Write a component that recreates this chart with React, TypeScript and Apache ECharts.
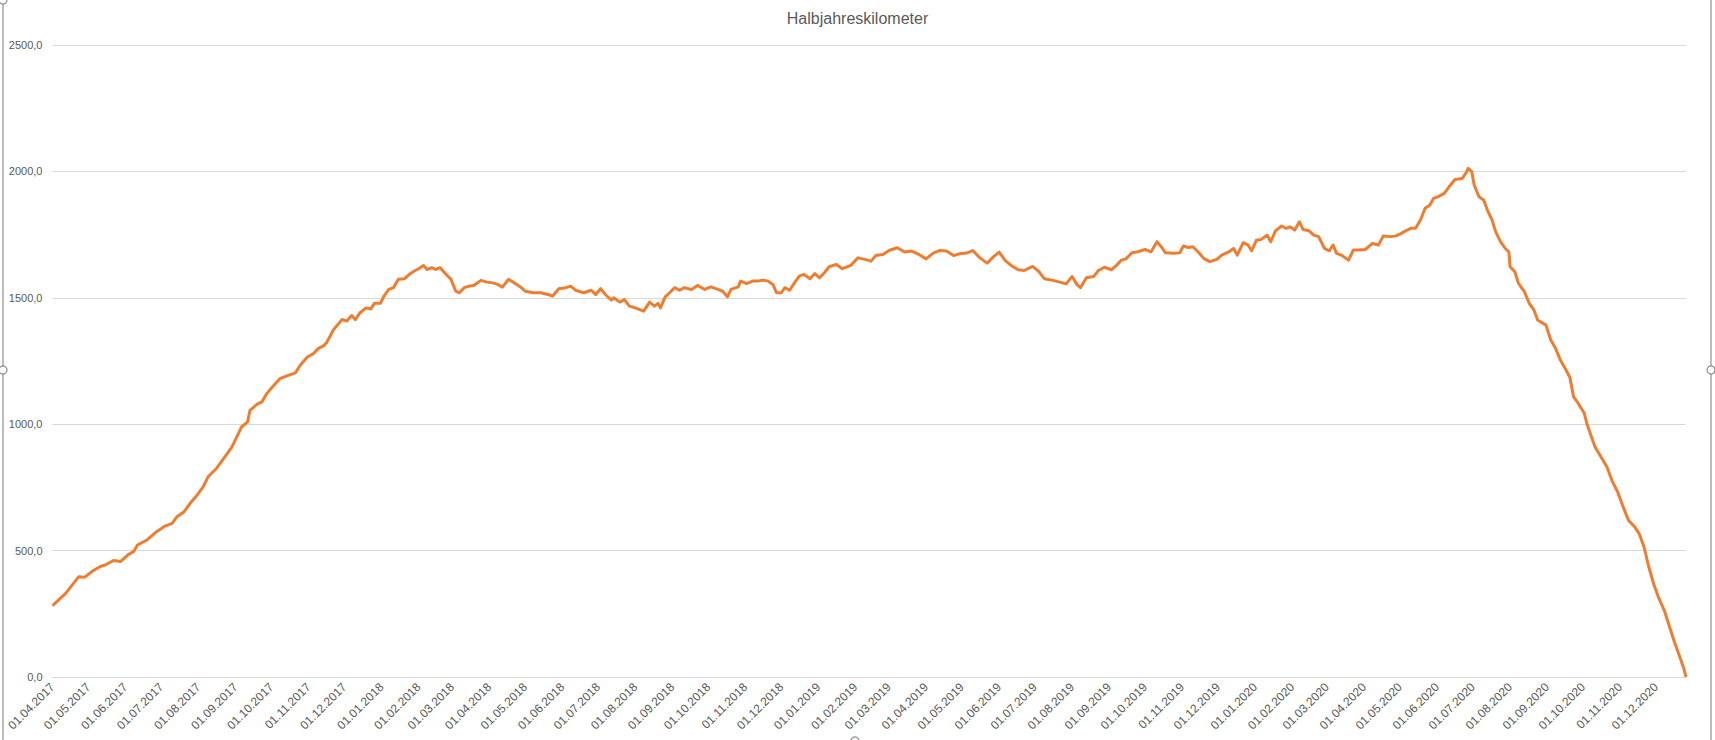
import React, { useEffect, useRef } from "react";
import * as echarts from "echarts";

const TITLE = "Halbjahreskilometer";

const dates: string[] = [
  "2017-04-01","2017-04-12","2017-04-23","2017-04-28","2017-05-05","2017-05-11","2017-05-15","2017-05-22","2017-05-28",
  "2017-06-03","2017-06-08","2017-06-11","2017-06-19","2017-06-27","2017-07-04","2017-07-10","2017-07-14","2017-07-20",
  "2017-07-25","2017-07-31","2017-08-05","2017-08-09","2017-08-16","2017-08-22","2017-08-29","2017-09-02","2017-09-06",
  "2017-09-11","2017-09-13","2017-09-19","2017-09-23","2017-09-27","2017-10-03","2017-10-08","2017-10-15","2017-10-21",
  "2017-10-25","2017-10-31","2017-11-05","2017-11-09","2017-11-14","2017-11-16","2017-11-22","2017-11-29","2017-12-03",
  "2017-12-07","2017-12-10","2017-12-14","2017-12-19","2017-12-23","2017-12-26","2017-12-31",
  "2018-01-03","2018-01-07","2018-01-11","2018-01-15","2018-01-20","2018-01-24","2018-01-28","2018-02-01","2018-02-05",
  "2018-02-08","2018-02-12","2018-02-15","2018-02-19","2018-02-24","2018-02-28","2018-03-04","2018-03-07","2018-03-11",
  "2018-03-15","2018-03-19","2018-03-25","2018-03-30","2018-04-04","2018-04-08","2018-04-12","2018-04-17","2018-04-22",
  "2018-04-27","2018-05-01","2018-05-08","2018-05-14","2018-05-20","2018-05-24","2018-05-29","2018-06-04","2018-06-08",
  "2018-06-12","2018-06-19","2018-06-25","2018-06-29","2018-07-03","2018-07-07","2018-07-12","2018-07-14","2018-07-19",
  "2018-07-23","2018-07-27","2018-08-01","2018-08-08","2018-08-13","2018-08-17","2018-08-20","2018-08-22","2018-08-26",
  "2018-08-29","2018-09-03","2018-09-07","2018-09-11","2018-09-17","2018-09-22","2018-09-28","2018-10-03","2018-10-09",
  "2018-10-13","2018-10-17","2018-10-20","2018-10-26","2018-10-28","2018-11-02","2018-11-07","2018-11-11","2018-11-16",
  "2018-11-20","2018-11-24","2018-11-27","2018-12-01","2018-12-04","2018-12-08","2018-12-12","2018-12-16","2018-12-20",
  "2018-12-25","2018-12-29",
  "2019-01-02","2019-01-06","2019-01-10","2019-01-16","2019-01-21","2019-01-28","2019-02-03","2019-02-09","2019-02-14",
  "2019-02-18","2019-02-24","2019-03-01","2019-03-08","2019-03-14","2019-03-20","2019-03-25","2019-04-01","2019-04-07",
  "2019-04-12","2019-04-18","2019-04-24","2019-04-29","2019-05-05","2019-05-10","2019-05-16","2019-05-22","2019-05-27",
  "2019-06-01","2019-06-06","2019-06-11","2019-06-17","2019-06-22","2019-06-29","2019-07-04","2019-07-09","2019-07-16",
  "2019-07-22","2019-07-27","2019-08-01","2019-08-05","2019-08-08","2019-08-13","2019-08-19","2019-08-23","2019-08-28",
  "2019-09-03","2019-09-07","2019-09-11","2019-09-15","2019-09-20","2019-09-25","2019-10-01","2019-10-06","2019-10-11",
  "2019-10-15","2019-10-18","2019-10-25","2019-10-30","2019-11-02","2019-11-06","2019-11-10","2019-11-15","2019-11-19",
  "2019-11-24","2019-11-30","2019-12-04","2019-12-10","2019-12-14","2019-12-17","2019-12-22","2019-12-26","2019-12-29",
  "2020-01-02","2020-01-06","2020-01-11","2020-01-14","2020-01-18","2020-01-23","2020-01-27","2020-01-30","2020-02-03",
  "2020-02-07","2020-02-10","2020-02-15","2020-02-19","2020-02-23","2020-02-28","2020-03-03","2020-03-06","2020-03-09",
  "2020-03-13","2020-03-19","2020-03-23","2020-03-27","2020-04-02","2020-04-08","2020-04-13","2020-04-17","2020-04-23",
  "2020-04-27","2020-05-01","2020-05-07","2020-05-10","2020-05-14","2020-05-18","2020-05-22","2020-05-26","2020-05-29",
  "2020-06-02","2020-06-07","2020-06-11","2020-06-16","2020-06-22","2020-06-25","2020-06-27","2020-06-30","2020-07-02",
  "2020-07-06","2020-07-10","2020-07-13","2020-07-17","2020-07-20","2020-07-24","2020-07-28","2020-07-31","2020-08-01",
  "2020-08-05","2020-08-08","2020-08-13","2020-08-17","2020-08-21","2020-08-24","2020-08-31","2020-09-04","2020-09-08",
  "2020-09-12","2020-09-16","2020-09-20","2020-09-23","2020-09-27","2020-10-02","2020-10-04","2020-10-07","2020-10-11",
  "2020-10-16","2020-10-21","2020-10-25","2020-10-30","2020-11-03","2020-11-08","2020-11-13","2020-11-17","2020-11-21",
  "2020-11-25","2020-11-29","2020-12-03","2020-12-08","2020-12-12","2020-12-16","2020-12-20","2020-12-24","2020-12-26"
];

const km: number[] = [
  282,331,397,395,421,437,443,461,457,
  483,497,522,542,575,597,608,634,654,
  687,720,753,792,825,864,910,950,989,
  1009,1055,1079,1088,1121,1154,1180,1193,1203,
  1233,1266,1279,1299,1312,1322,1375,1414,1408,
  1430,1414,1441,1460,1456,1478,1478,
  1507,1533,1540,1573,1575,1592,1605,1615,1628,
  1612,1619,1612,1619,1592,1573,1526,1520,1540,
  1546,1549,1569,1562,1559,1553,1542,1573,1559,
  1543,1526,1520,1520,1513,1507,1536,1540,1546,
  1530,1520,1530,1513,1536,1513,1491,1500,1483,
  1493,1467,1460,1447,1483,1467,1478,1460,1504,
  1517,1540,1530,1540,1533,1549,1533,1543,1533,
  1526,1504,1533,1543,1566,1556,1566,1566,1570,
  1566,1553,1520,1520,1540,1530,1559,1586,1592,
  1575,1596,
  1579,1599,1623,1632,1615,1628,1658,1652,1645,
  1667,1671,1687,1698,1681,1685,1674,1654,1677,
  1687,1685,1667,1674,1677,1687,1658,1637,1661,
  1681,1648,1628,1611,1608,1624,1605,1575,1569,
  1562,1555,1584,1553,1540,1579,1584,1608,1621,
  1611,1628,1648,1654,1678,1682,1691,1682,1722,
  1699,1678,1676,1678,1705,1699,1702,1678,1656,
  1643,1652,1669,1682,1695,1669,1718,1709,1686,
  1728,1731,1748,1722,1765,1784,1775,1781,1768,
  1801,1770,1765,1748,1742,1695,1686,1709,1676,
  1669,1649,1689,1689,1691,1715,1709,1744,1742,
  1744,1752,1768,1775,1775,1807,1854,1867,1893,
  1900,1913,1939,1968,1972,1992,2012,1999,1946,
  1900,1887,1847,1807,1761,1722,1695,1682,1623,
  1603,1557,1524,1478,1451,1412,1392,1333,1300,
  1254,1221,1185,1109,1082,1043,1005,963,910,
  870,831,778,731,679,619,595,566,513,
  434,368,315,262,202,143,90,37,0
];

const Y_MIN = 0;
const Y_MAX = 2500;
const Y_STEP = 500;
const X_START = "2017-04-01";
const X_END = "2020-12-26";

const pad = (n: number) => (n < 10 ? "0" + n : "" + n);

export default function App() {
  const ref = useRef<HTMLDivElement>(null);
  useEffect(() => {
    if (!ref.current) return;
    const chart = echarts.init(ref.current, undefined, { renderer: "svg" });
    const DAY = 24 * 3600 * 1000;
    const font = "'Liberation Sans', Arial, sans-serif";
    chart.setOption({
      animation: false,
      backgroundColor: "#ffffff",
      title: {
        text: TITLE,
        left: "center",
        top: 5,
        textStyle: { color: "#595959", fontSize: 16, fontWeight: "normal", fontFamily: font },
      },
      grid: { left: 52.5, right: 29, top: 45, bottom: 63, containLabel: false },
      xAxis: {
        type: "time",
        min: X_START,
        max: X_END,
        splitNumber: 45,
        minInterval: 28 * DAY,
        maxInterval: 31 * DAY,
        axisLine: { show: true, lineStyle: { color: "#d9d9d9", width: 1 } },
        axisTick: { show: false },
        splitLine: { show: false },
        axisLabel: {
          rotate: 45,
          margin: 8,
          color: "#595959",
          fontSize: 12,
          fontFamily: font,
          hideOverlap: false,
          showMinLabel: true,
          showMaxLabel: false,
          formatter: (val: number) => {
            const d = new Date(val);
            return pad(d.getDate()) + "." + pad(d.getMonth() + 1) + "." + d.getFullYear();
          },
        },
      },
      yAxis: {
        type: "value",
        min: Y_MIN,
        max: Y_MAX,
        interval: Y_STEP,
        axisLine: { show: false },
        axisTick: { show: false },
        splitLine: { lineStyle: { color: "#d9d9d9", width: 1 } },
        axisLabel: {
          margin: 10,
          color: "#595959",
          fontSize: 11,
          fontFamily: font,
          formatter: (v: number) => v.toFixed(1).replace(".", ","),
        },
      },
      series: [
        {
          type: "line",
          data: dates.map((d, i) => [d, km[i]]),
          showSymbol: false,
          symbol: "none",
          lineStyle: { color: "#ED7D31", width: 3, join: "round" },
          itemStyle: { color: "#ED7D31" },
        },
      ],
      graphic: [
        {
          type: "rect",
          shape: { x: 3, y: -2, width: 1708, height: 746 },
          style: { fill: "none", stroke: "#a6a6a6", lineWidth: 1.5 },
          silent: true,
        },
        { type: "circle", shape: { cx: 3, cy: 370, r: 4 }, style: { fill: "#ffffff", stroke: "#8c8c8c", lineWidth: 1.2 } },
        { type: "circle", shape: { cx: 1711, cy: 370, r: 4 }, style: { fill: "#ffffff", stroke: "#8c8c8c", lineWidth: 1.2 } },
        { type: "circle", shape: { cx: 855, cy: 741, r: 4 }, style: { fill: "#ffffff", stroke: "#8c8c8c", lineWidth: 1.2 } },
        { type: "circle", shape: { cx: 3, cy: 0, r: 4 }, style: { fill: "#ffffff", stroke: "#8c8c8c", lineWidth: 1.2 } },
      ],
    });
    return () => chart.dispose();
  }, []);
  return (
    <div
      ref={ref}
      style={{ position: "absolute", left: 0, top: 0, width: 1715, height: 740 }}
    />
  );
}
